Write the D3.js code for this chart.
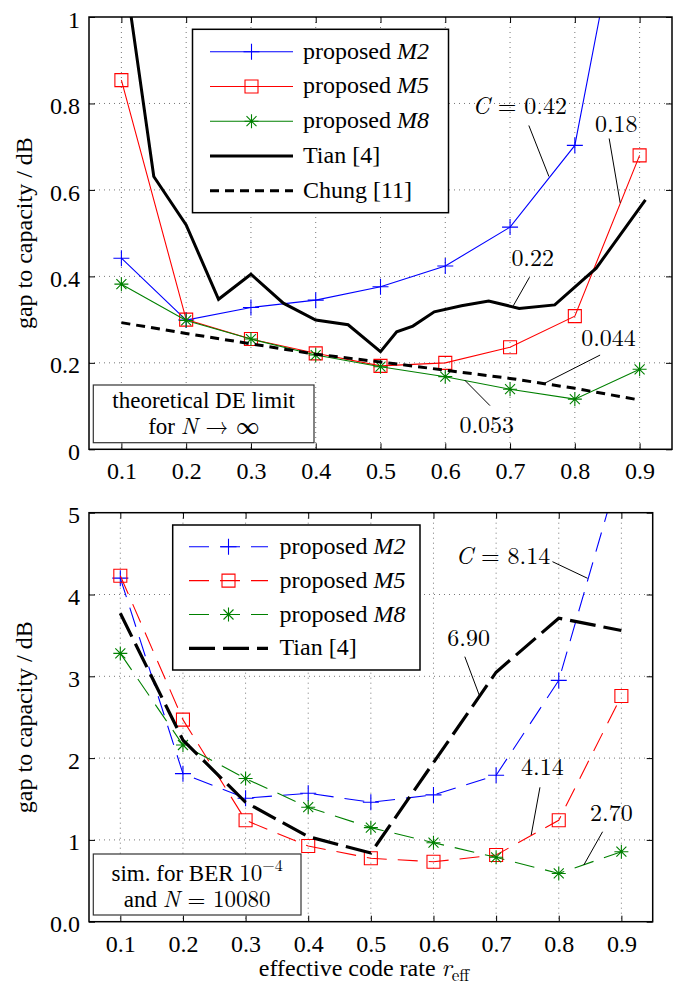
<!DOCTYPE html>
<html>
<head>
<meta charset="utf-8">
<title>Gap to capacity against effective code rate</title>
<script src="https://d3js.org/d3.v7.min.js"></script>
<style>
  body { margin: 0; background: #fff; }
  .grid line { stroke: #777; stroke-width: 1; stroke-dasharray: 1,4; }
  .frame { fill: none; stroke: #000; stroke-width: 1.5; }
  .note line { stroke: #000; stroke-width: 1; }
</style>
</head>
<body>
<svg id="chart" width="683" height="990"></svg>
<script>
// ---- data ----
const rates = [0.1, 0.2, 0.3, 0.4, 0.5, 0.6, 0.7, 0.8, 0.9];
const xTickLabels = ['0.1', '0.2', '0.3', '0.4', '0.5', '0.6', '0.7', '0.8', '0.9'];

// top panel: theoretical DE limit
const topYTicks = [0, 0.2, 0.4, 0.6, 0.8, 1];
const topYLabels = ['0', '0.2', '0.4', '0.6', '0.8', '1'];
const topM2 = [0.442, 0.299, 0.328, 0.345, 0.376, 0.424, 0.514, 0.703, 1.48];
const topM5 = [0.854, 0.300, 0.255, 0.222, 0.193, 0.200, 0.236, 0.308, 0.680];
const topM8 = [0.382, 0.298, 0.255, 0.218, 0.191, 0.168, 0.139, 0.116, 0.185];
const topTianRates = [0.1, 0.15, 0.2, 0.25, 0.3, 0.35, 0.4, 0.45, 0.5, 0.525, 0.55, 0.583, 0.625, 0.667, 0.714, 0.769, 0.833, 0.909];
const topTian = [1.16, 0.631, 0.519, 0.347, 0.405, 0.338, 0.299, 0.288, 0.226, 0.272, 0.285, 0.318, 0.332, 0.343, 0.326, 0.334, 0.419, 0.577];
const topChung = [0.293, 0.268, 0.244, 0.220, 0.202, 0.183, 0.164, 0.141, 0.114];

// bottom panel: simulation, BER 1e-4, N = 10080
const botYTicks = [0, 1, 2, 3, 4, 5];
const botYLabels = ['0.0', '1', '2', '3', '4', '5'];
const botM2 = [4.20, 1.81, 1.51, 1.57, 1.46, 1.55, 1.79, 2.95, 5.6];
const botM5 = [4.23, 2.47, 1.24, 0.925, 0.775, 0.733, 0.815, 1.24, 2.76];
const botM8 = [3.28, 2.16, 1.75, 1.40, 1.15, 0.966, 0.787, 0.59, 0.856];
const botTianRates = [0.1, 0.2, 0.3, 0.4, 0.5, 0.7, 0.8, 0.9];
const botTian = [3.77, 2.22, 1.46, 1.04, 0.84, 3.05, 3.71, 3.56];

// annotations (label, text anchor and leader line in data units)
const topNotes = [
  {label: [['C', 'mi'], [' = 0.42', 'm']], at: [0.715, 0.776], from: [0.729, 0.749], to: [0.760, 0.631]},
  {label: [['0.18', 'm']], at: [0.864, 0.735], from: [0.853, 0.719], to: [0.870, 0.570]},
  {label: [['0.22', 'm']], at: [0.735, 0.425], from: [0.730, 0.398], to: [0.705, 0.332]},
  {label: [['0.044', 'm']], at: [0.852, 0.239], from: [0.839, 0.218], to: [0.751, 0.151]},
  {label: [['0.053', 'm']], at: [0.664, 0.037], from: [0.669, 0.101], to: [0.630, 0.160]}
];
const botNotes = [
  {label: [['C', 'mi'], [' = 8.14', 'm']], at: [0.711, 4.373], from: [0.790, 4.401], to: [0.846, 4.198]},
  {label: [['6.90', 'm']], at: [0.656, 3.370], from: [0.650, 3.240], to: [0.674, 2.751]},
  {label: [['4.14', 'm']], at: [0.774, 1.793], from: [0.770, 1.643], to: [0.756, 1.060]},
  {label: [['2.70', 'm']], at: [0.884, 1.231], from: [0.870, 1.100], to: [0.840, 0.693]}
];

// ---- drawing ----
const svg = d3.select('#chart');
const FONT = 24;
const BOX_FONT = 23;
const TEXT_FONT = '"Liberation Serif"';
const MATH_FONT = '"Latin Modern Roman"';

const markers = {
  plus: 'M-8,0H8M0,-8V8',
  square: 'M-6.5,-6.5H6.5V6.5H-6.5Z',
  star: 'M-7,0H7M0,-7V7M-5,-5L5,5M-5,5L5,-5'
};

// parts: [text, kind]; kind: 't' text, 'i' text italic, 'm' math, 'mi' math italic, 'sup' math superscript
function addLabel(sel, parts) {
  sel.style('font-family', TEXT_FONT);
  parts.forEach(([txt, kind]) => {
    const ts = sel.append('tspan').text(txt);
    if (kind === 'i') ts.style('font-style', 'italic');
    if (kind === 'm' || kind === 'mi' || kind === 'sup') ts.style('font-family', MATH_FONT);
    if (kind === 'mi') ts.style('font-style', 'italic');
    if (kind === 'sup') ts.attr('font-size', 16).attr('dy', -10);
  });
}

function drawPanel(p) {
  const x = d3.scaleLinear().domain([0.05, 0.95]).range([p.left, p.right]);
  const y = d3.scaleLinear().domain([p.yTicks[0], p.yTicks[p.yTicks.length - 1]]).range([p.bottom, p.top]);
  const g = svg.append('g');

  svg.append('clipPath').attr('id', 'clip-' + p.id)
    .append('rect')
    .attr('x', p.left).attr('y', p.top)
    .attr('width', p.right - p.left).attr('height', p.bottom - p.top);

  // dotted grid
  const grid = g.append('g').attr('class', 'grid');
  grid.selectAll('.gx').data(rates).join('line')
    .attr('x1', d => x(d)).attr('x2', d => x(d))
    .attr('y1', p.top).attr('y2', p.bottom);
  grid.selectAll('.gy').data(p.yTicks.slice(1, -1)).join('line')
    .attr('x1', p.left).attr('x2', p.right)
    .attr('y1', d => y(d)).attr('y2', d => y(d));

  // series
  const plot = g.append('g').attr('clip-path', `url(#clip-${p.id})`);
  const line = d3.line().x(d => x(d[0])).y(d => y(d[1]));
  p.series.forEach(s => {
    const pts = s.xs.map((r, i) => [r, s.ys[i]]);
    plot.append('path').datum(pts)
      .attr('d', line)
      .attr('fill', 'none')
      .attr('stroke', s.color)
      .attr('stroke-width', s.width)
      .attr('stroke-dasharray', s.dash || null);
    if (s.marker) {
      plot.append('g').selectAll('path').data(pts).join('path')
        .attr('transform', d => `translate(${x(d[0])},${y(d[1])})`)
        .attr('d', markers[s.marker])
        .attr('fill', 'none')
        .attr('stroke', s.color)
        .attr('stroke-width', 1.1);
    }
  });

  // annotations
  const notes = g.append('g').attr('class', 'note');
  p.notes.forEach(n => {
    notes.append('line')
      .attr('x1', x(n.from[0])).attr('y1', y(n.from[1]))
      .attr('x2', x(n.to[0])).attr('y2', y(n.to[1]));
    const t = notes.append('text')
      .attr('x', x(n.at[0])).attr('y', y(n.at[1]))
      .attr('text-anchor', 'middle')
      .attr('font-size', FONT);
    addLabel(t, n.label);
  });

  // legend
  const lg = g.append('g');
  lg.append('rect')
    .attr('x', p.legend.x).attr('y', p.legend.y)
    .attr('width', p.legend.w).attr('height', p.legend.h)
    .attr('fill', '#fff').attr('stroke', '#000').attr('stroke-width', 1.5);
  p.series.forEach((s, i) => {
    const ly = p.legend.y0 + i * p.legend.step;
    lg.append('line')
      .attr('x1', p.legend.l1).attr('x2', p.legend.l2)
      .attr('y1', ly).attr('y2', ly)
      .attr('stroke', s.color).attr('stroke-width', s.width)
      .attr('stroke-dasharray', s.dash || null);
    if (s.marker) {
      lg.append('path')
        .attr('transform', `translate(${(p.legend.l1 + p.legend.l2) / 2},${ly})`)
        .attr('d', markers[s.marker])
        .attr('fill', 'none').attr('stroke', s.color).attr('stroke-width', 1.1);
    }
    const t = lg.append('text')
      .attr('x', p.legend.tx).attr('y', ly + 7)
      .attr('font-size', FONT);
    addLabel(t, s.name);
  });

  // info box
  const bx = g.append('g');
  bx.append('rect')
    .attr('x', p.box.x).attr('y', p.box.y)
    .attr('width', p.box.w).attr('height', p.box.h)
    .attr('fill', '#fff').attr('stroke', '#333').attr('stroke-width', 1.2);
  p.box.lines.forEach((parts, i) => {
    const t = bx.append('text')
      .attr('x', p.box.x + p.box.w / 2)
      .attr('y', p.box.y + p.box.first + i * p.box.step)
      .attr('text-anchor', 'middle')
      .attr('font-size', BOX_FONT);
    addLabel(t, parts);
  });

  // frame and axes (ticks inside on all four sides)
  g.append('rect').attr('class', 'frame')
    .attr('x', p.left).attr('y', p.top)
    .attr('width', p.right - p.left).attr('height', p.bottom - p.top);

  const style = a => {
    a.select('.domain').remove();
    a.attr('font-family', null).attr('font-size', FONT).style('font-family', TEXT_FONT);
    a.selectAll('.tick line').attr('stroke-width', 1);
  };
  g.append('g').attr('transform', `translate(0,${p.bottom})`)
    .call(d3.axisBottom(x).tickValues(rates).tickFormat((d, i) => xTickLabels[i])
      .tickSizeInner(-6).tickSizeOuter(0).tickPadding(13))
    .call(style);
  g.append('g').attr('transform', `translate(0,${p.top})`)
    .call(d3.axisTop(x).tickValues(rates).tickFormat('').tickSizeInner(-6).tickSizeOuter(0))
    .call(style);
  g.append('g').attr('transform', `translate(${p.left},0)`)
    .call(d3.axisLeft(y).tickValues(p.yTicks).tickFormat((d, i) => p.yLabels[i])
      .tickSizeInner(-6).tickSizeOuter(0).tickPadding(9))
    .call(style)
    .selectAll('text').attr('dy', '0.42em');
  g.append('g').attr('transform', `translate(${p.right},0)`)
    .call(d3.axisRight(y).tickValues(p.yTicks).tickFormat('').tickSizeInner(-6).tickSizeOuter(0))
    .call(style);

  // y label
  svg.append('text')
    .attr('transform', `translate(32,${(p.top + p.bottom) / 2}) rotate(-90)`)
    .attr('text-anchor', 'middle')
    .attr('font-size', FONT)
    .style('font-family', TEXT_FONT)
    .text('gap to capacity / dB');
}

drawPanel({
  id: 'top', left: 89, right: 672, top: 17, bottom: 449.3,
  yTicks: topYTicks, yLabels: topYLabels,
  series: [
    {name: [['proposed ', 't'], ['M2', 'i']], xs: rates, ys: topM2, color: '#0000ff', width: 1.1, marker: 'plus'},
    {name: [['proposed ', 't'], ['M5', 'i']], xs: rates, ys: topM5, color: '#ff0000', width: 1.1, marker: 'square'},
    {name: [['proposed ', 't'], ['M8', 'i']], xs: rates, ys: topM8, color: '#008000', width: 1.1, marker: 'star'},
    {name: [['Tian [4]', 't']], xs: topTianRates, ys: topTian, color: '#000', width: 3},
    {name: [['Chung [11]', 't']], xs: rates, ys: topChung, color: '#000', width: 3, dash: '9,6'}
  ],
  notes: topNotes,
  legend: {x: 192.5, y: 29.3, w: 256, h: 183.4, y0: 51.7, step: 34.75, l1: 210, l2: 293, tx: 303},
  box: {x: 93.3, y: 385, w: 220.7, h: 57.7, first: 23, step: 26,
        lines: [[['theoretical DE limit', 't']], [['for ', 't'], ['N', 'mi'], [' \u2192 \u221e', 'm']]]}
});

drawPanel({
  id: 'bot', left: 89, right: 652.7, top: 512.7, bottom: 921.7,
  yTicks: botYTicks, yLabels: botYLabels,
  series: [
    {name: [['proposed ', 't'], ['M2', 'i']], xs: rates, ys: botM2, color: '#0000ff', width: 1.1, marker: 'plus', dash: '20,11'},
    {name: [['proposed ', 't'], ['M5', 'i']], xs: rates, ys: botM5, color: '#ff0000', width: 1.1, marker: 'square', dash: '20,11'},
    {name: [['proposed ', 't'], ['M8', 'i']], xs: rates, ys: botM8, color: '#008000', width: 1.1, marker: 'star', dash: '20,11'},
    {name: [['Tian [4]', 't']], xs: botTianRates, ys: botTian, color: '#000', width: 3.2, dash: '26,8'}
  ],
  notes: botNotes,
  legend: {x: 172.7, y: 525, w: 247.3, h: 145, y0: 546.7, step: 33.9, l1: 189, l2: 268, tx: 279.5},
  box: {x: 93.3, y: 854, w: 207.7, h: 61, first: 26.5, step: 26.5,
        lines: [[['sim. for BER ', 't'], ['10', 'm'], ['\u22124', 'sup']], [['and ', 't'], ['N', 'mi'], [' = 10080', 'm']]]}
});

// x label
const xl = svg.append('text')
  .attr('x', 364).attr('y', 976)
  .attr('text-anchor', 'middle')
  .attr('font-size', FONT);
addLabel(xl, [['effective code rate ', 't'], ['r', 'mi']]);
xl.append('tspan').attr('font-size', 17).attr('dy', 5)
  .style('font-family', MATH_FONT).text('eff');
</script>
</body>
</html>
